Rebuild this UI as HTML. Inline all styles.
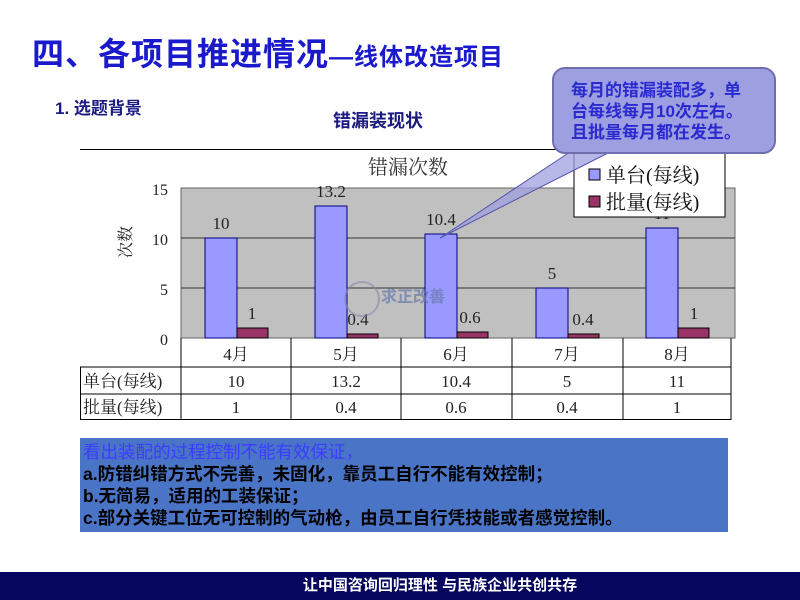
<!DOCTYPE html>
<html><head><meta charset="utf-8"><style>
body{margin:0;width:800px;height:600px;background:#fff;overflow:hidden;position:relative;font-family:"Liberation Sans","Noto Sans CJK SC",sans-serif}
.abs{position:absolute;white-space:nowrap}
</style></head><body>
<div class="abs" style="left:32px;top:29px;font-size:32px;font-weight:bold;color:#1a1acc;letter-spacing:1px">四、各项目推进情况<span style="font-size:24px">—线体改造项目</span></div>
<div class="abs" style="left:55px;top:94px;font-size:17px;font-weight:bold;color:#1a1a80">1. 选题背景</div>
<div class="abs" style="left:333px;top:107px;font-size:18px;font-weight:bold;color:#1a1a80">错漏装现状</div>
<svg class="abs" style="left:0;top:0" width="800" height="600" font-family="'Liberation Serif','Noto Serif CJK SC',serif">
<line x1="80" y1="149.5" x2="735" y2="149.5" stroke="#000"/>
<rect x="181" y="188" width="554" height="150" fill="#c0c0c0" stroke="#666"/>
<line x1="181" y1="238" x2="735" y2="238" stroke="#333"/>
<line x1="181" y1="288" x2="735" y2="288" stroke="#333"/>
<text x="408" y="174" font-size="20" text-anchor="middle" fill="#333">错漏次数</text>
<g font-size="16" text-anchor="end" fill="#222">
<text x="168" y="195">15</text><text x="168" y="245">10</text><text x="168" y="295">5</text><text x="168" y="345">0</text></g>
<text transform="translate(131,242) rotate(-90)" font-size="16" text-anchor="middle" fill="#222">次数</text>
<g stroke="#000080" fill="#9999ff">
<rect x="205" y="238" width="32" height="100"/>
<rect x="315" y="206" width="32" height="132"/>
<rect x="425" y="234" width="32" height="104"/>
<rect x="536" y="288" width="32" height="50"/>
<rect x="646" y="228" width="32" height="110"/>
</g>
<g stroke="#000" fill="#993366">
<rect x="237" y="328" width="31" height="10"/>
<rect x="347" y="334" width="31" height="4"/>
<rect x="457" y="332" width="31" height="6"/>
<rect x="568" y="334" width="31" height="4"/>
<rect x="678" y="328" width="31" height="10"/>
</g>
<g font-size="17" text-anchor="middle" fill="#222">
<text x="221" y="229">10</text><text x="331" y="197">13.2</text><text x="441" y="225">10.4</text><text x="552" y="279">5</text><text x="662" y="219">11</text>
<text x="252" y="319">1</text><text x="358" y="325">0.4</text><text x="470" y="323">0.6</text><text x="583" y="325">0.4</text><text x="694" y="319">1</text>
</g>
<g stroke="#000" stroke-width="1">
<line x1="181" y1="338" x2="181" y2="420"/>
<line x1="291" y1="338" x2="291" y2="420"/><line x1="401" y1="338" x2="401" y2="420"/>
<line x1="512" y1="338" x2="512" y2="420"/><line x1="623" y1="338" x2="623" y2="420"/>
<line x1="731" y1="338" x2="731" y2="420"/>
<line x1="80" y1="367" x2="731" y2="367"/><line x1="80" y1="394" x2="731" y2="394"/><line x1="80" y1="419.5" x2="731" y2="419.5"/>
<line x1="80.5" y1="367" x2="80.5" y2="420"/>
</g>
<g font-size="17" text-anchor="middle" fill="#222">
<text x="236" y="360">4月</text><text x="346" y="360">5月</text><text x="456" y="360">6月</text><text x="567" y="360">7月</text><text x="677" y="360">8月</text>
<text x="236" y="387">10</text><text x="346" y="387">13.2</text><text x="456" y="387">10.4</text><text x="567" y="387">5</text><text x="677" y="387">11</text>
<text x="236" y="413">1</text><text x="346" y="413">0.4</text><text x="456" y="413">0.6</text><text x="567" y="413">0.4</text><text x="677" y="413">1</text>
</g>
<g font-size="17" fill="#222"><text x="83" y="387">单台(每线)</text><text x="83" y="413">批量(每线)</text></g>
<rect x="574" y="148" width="151" height="69" fill="#fff" stroke="#000"/>
<rect x="589" y="169" width="11" height="11" fill="#9999ff" stroke="#000"/>
<rect x="589" y="196" width="11" height="11" fill="#993366" stroke="#000"/>
<g font-size="20" fill="#111"><text x="606" y="182">单台(每线)</text><text x="606" y="209">批量(每线)</text></g>
<path d="M570,152 L440,238 L610,152 Z" fill="#9fa0e0" fill-opacity="0.75" stroke="#5555aa"/>
<rect x="553" y="68" width="222" height="85" rx="12" fill="#9d9fe0" stroke="#6f6fb0" stroke-width="2"/>
<g font-family="'Liberation Sans','Noto Sans CJK SC',sans-serif" font-size="17" font-weight="bold" fill="#2a2ad0">
<text x="571" y="96">每月的错漏装配多，单</text><text x="571" y="117">台每线每月10次左右。</text><text x="571" y="138">且批量每月都在发生。</text></g>
<circle cx="362" cy="299" r="17" fill="none" stroke="#8888aa" stroke-width="2" opacity="0.6"/>
<text x="381" y="302" font-family="'Liberation Sans','Noto Sans CJK SC',sans-serif" font-size="16" font-weight="bold" fill="#6677aa" opacity="0.7">求正改善</text>
</svg>
<div class="abs" style="left:80px;top:438px;width:648px;height:94px;background:#4a74c6;font-size:17.5px;font-weight:bold;line-height:22px;padding:3px 0 0 3px;box-sizing:border-box;color:#000">
<div style="color:#3c3cff;font-weight:normal">看出装配的过程控制不能有效保证，</div>
<div>a.防错纠错方式不完善，未固化，靠员工自行不能有效控制；</div>
<div>b.无简易，适用的工装保证；</div>
<div>c.部分关键工位无可控制的气动枪，由员工自行凭技能或者感觉控制。</div>
</div>
<div class="abs" style="left:0;top:572px;width:800px;height:28px;background:#06065e;color:#fff;font-size:15px;font-weight:bold;text-align:center;line-height:28px;padding-left:80px;box-sizing:border-box">让中国咨询回归理性 与民族企业共创共存</div>
</body></html>
